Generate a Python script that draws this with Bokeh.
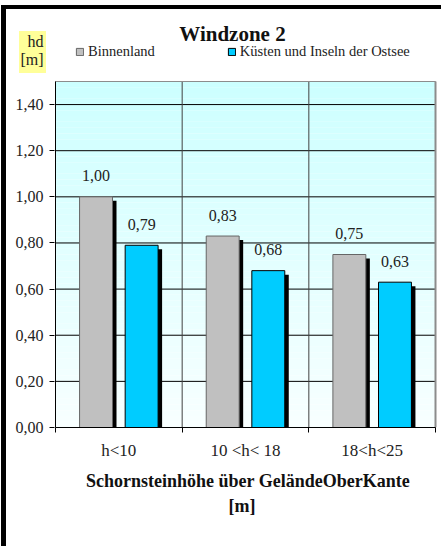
import numpy as np
from bokeh.plotting import figure
from bokeh.models import (FixedTicker, Range1d, Legend, LegendItem, Label, Title)
from bokeh.core.properties import value
from bokeh.embed import file_html
from bokeh.resources import INLINE

# ---- data ----
title = "Windzone 2"
y_unit_lines = ["hd", "[m]"]
categories = ["h<10", "10 <h< 18", "18<h<25"]
series_names = ["Binnenland", "Küsten und Inseln der Ostsee"]
binnenland = [1.00, 0.83, 0.75]
kuesten = [0.79, 0.68, 0.63]
y_ticks = [0.0, 0.2, 0.4, 0.6, 0.8, 1.0, 1.2, 1.4]
y_tick_labels = ["0,00", "0,20", "0,40", "0,60", "0,80", "1,00", "1,20", "1,40"]
x_title_lines = ["Schornsteinhöhe über GeländeOberKante", "[m]"]

# ---- layout / style ----
SERIF = "Liberation Serif"
GRAY = "#C0C0C0"
CYAN = "#00CCFF"
W, H = 441, 546
PLOT_L, PLOT_R, PLOT_T, PLOT_B = 55, 435, 81, 427   # plot area in page px
YMAX = 1.5
NCAT = len(categories)
XS = (PLOT_R - PLOT_L) / NCAT          # px per x unit
YS = (PLOT_B - PLOT_T) / YMAX          # px per y unit
FRAME_L = PLOT_L - 1
x_start = -(PLOT_L - FRAME_L) / XS
x_end = x_start + (W - FRAME_L) / XS
y_end = PLOT_B / YS

def dx(px):
    return (px - PLOT_L) / XS

def dy(py):
    return (PLOT_B - py) / YS

p = figure(width=W, height=H, output_backend="svg", toolbar_location=None,
           x_range=Range1d(x_start, x_end), y_range=Range1d(0, y_end),
           min_border_left=FRAME_L, min_border_top=0, min_border_right=0,
           min_border_bottom=H - PLOT_B)
p.background_fill_alpha = 0
p.border_fill_alpha = 0
p.outline_line_color = None
p.xgrid.visible = False
p.ygrid.visible = False
# outer decorations (yellow unit box, thick black left/top border) as page background
p.styles = {
    "background": (
        "linear-gradient(#FFFF99, #FFFF99) 19px 31px / 27px 42px no-repeat, "
        "linear-gradient(#000, #000) 1px 5px / 5px 541px no-repeat, "
        "linear-gradient(#000, #000) 1px 5px / 440px 4px no-repeat, white"
    )
}

# gradient plot-area background (light cyan at top -> near white at bottom)
n = 60
edges = np.linspace(0, YMAX, n + 1)
top_rgb = np.array([204, 255, 255])
bot_rgb = np.array([248, 255, 255])
cols = []
for i in range(n):
    t = (i + 0.5) / n
    c = (bot_rgb + (top_rgb - bot_rgb) * t).round().astype(int)
    cols.append("#%02x%02x%02x" % tuple(c))
p.quad(left=0, right=NCAT, bottom=edges[:-1], top=edges[1:], fill_color=cols,
       line_color=None)

# grid lines
p.segment(x0=0, x1=NCAT, y0=y_ticks, y1=y_ticks, line_color="black", line_width=1)
bounds = list(range(1, NCAT))
p.segment(x0=bounds, x1=bounds, y0=0, y1=YMAX, line_color="#404040", line_width=1)
# plot-area border
p.quad(left=0, right=NCAT, bottom=0, top=YMAX, fill_color=None, line_color="#8c8c8c",
       line_width=1)
p.segment(x0=NCAT, x1=NCAT, y0=0, y1=YMAX, line_color="#8c8c8c", line_width=2)
p.segment(x0=0, x1=0, y0=0, y1=YMAX, line_color="black", line_width=1)

# y axis (numbers + unit text as extra labels above the plot area)
unit_y = [dy(41), dy(59)]
ya = p.yaxis[0]
ya.ticker = FixedTicker(ticks=y_ticks + unit_y, minor_ticks=y_ticks)
ya.major_label_overrides = dict(zip(y_ticks + unit_y, y_tick_labels + y_unit_lines))
ya.axis_line_color = None
ya.major_tick_out = 5
ya.major_tick_in = 0
ya.major_tick_line_color = None
ya.minor_tick_out = 5
ya.minor_tick_in = 0
ya.minor_tick_line_color = "black"
ya.major_label_standoff = 6
ya.major_label_text_font = SERIF
ya.major_label_text_font_size = "16px"
ya.major_label_text_color = "#222222"

# x axis
centers = [i + 0.5 for i in range(NCAT)]
xa = p.xaxis[0]
xa.bounds = (0, NCAT)
xa.ticker = FixedTicker(ticks=centers, minor_ticks=list(range(NCAT + 1)))
xa.major_label_overrides = dict(zip(centers, categories))
xa.axis_line_color = "black"
xa.major_tick_out = 0
xa.major_tick_in = 0
xa.minor_tick_out = 5
xa.minor_tick_in = 0
xa.minor_tick_line_color = "black"
xa.major_label_standoff = 8
xa.major_label_text_font = SERIF
xa.major_label_text_font_size = "17px"
xa.major_label_text_color = "#222222"
xa.axis_label = x_title_lines[0]
xa.axis_label_standoff = 8
xa.axis_label_text_font = SERIF
xa.axis_label_text_font_size = "18px"
xa.axis_label_text_font_style = "bold"
xa.axis_label_text_color = "#111111"
p.add_layout(Title(text=x_title_lines[1], align="left", offset=228 - FRAME_L,
                   text_font=SERIF, text_font_size="18px", text_font_style="bold",
                   text_color="#111111", standoff=0), "below")

# bars
bw = 0.26
off = 0.18
sdx = 4 / XS
sdy = 4 / YS
xs_g = [c - off for c in centers]
xs_c = [c + off for c in centers]
p.vbar(x=[x + sdx for x in xs_g], top=[v - sdy for v in binnenland], bottom=0, width=bw,
       fill_color="black", line_color=None)
p.vbar(x=[x + sdx for x in xs_c], top=[v - sdy for v in kuesten], bottom=0, width=bw,
       fill_color="black", line_color=None)
rg = p.vbar(x=xs_g, top=binnenland, bottom=0, width=bw, fill_color=GRAY,
            line_color="#666666", line_width=1)
rc = p.vbar(x=xs_c, top=kuesten, bottom=0, width=bw, fill_color=CYAN,
            line_color="black", line_width=1)

def fmt(v):
    return f"{v:.2f}".replace(".", ",")

p.text(x=xs_g, y=binnenland, text=[fmt(v) for v in binnenland], text_align="center",
       text_baseline="middle", y_offset=-21, text_font=value(SERIF),
       text_font_size="16px", text_color="#222222")
p.text(x=xs_c, y=kuesten, text=[fmt(v) for v in kuesten], text_align="center",
       text_baseline="middle", y_offset=-21, text_font=value(SERIF),
       text_font_size="16px", text_color="#222222")

# legend
legend = Legend(items=[LegendItem(label=series_names[0], renderers=[rg]),
                       LegendItem(label=series_names[1], renderers=[rc])],
                orientation="horizontal", location=(75 - FRAME_L, PLOT_B - 60),
                glyph_width=9, glyph_height=9, label_standoff=4, spacing=72,
                padding=0, margin=0, border_line_color=None, background_fill_alpha=0,
                label_text_font=SERIF, label_text_font_size="14.5px", label_height=12,
                label_text_color="#222222")
p.add_layout(legend, "center")

# title
p.add_layout(Label(x=dx(232), y=dy(33), text=title, text_align="center",
                   text_baseline="middle", text_font=SERIF, text_font_size="21px",
                   text_font_style="bold", text_color="#111111"))

open("out.html", "w").write(file_html(p, INLINE))
